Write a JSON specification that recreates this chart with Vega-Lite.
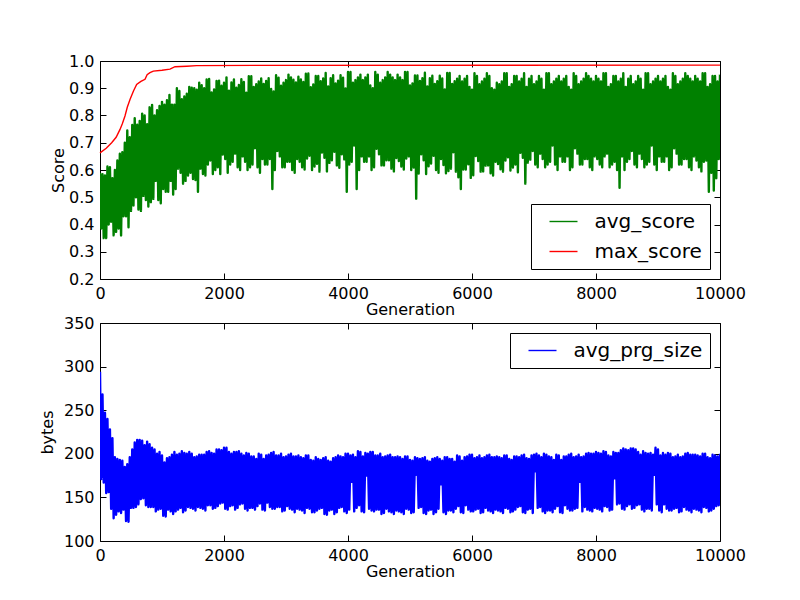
{
  "$schema": "https://vega.github.io/schema/vega-lite/v6.json",
  "background": "white",
  "padding": {"left": 38, "top": 52, "right": 5, "bottom": 5},
  "datasets": {
    "runs": [
      {"x":0,"a":0.59,"p":294},{"x":20,"a":0.385,"p":171},{"x":40,"a":0.585,"p":268},{"x":60,"a":0.35,"p":167},
      {"x":80,"a":0.58,"p":247},{"x":100,"a":0.35,"p":155},{"x":120,"a":0.613,"p":240},{"x":140,"a":0.40,"p":156},
      {"x":160,"a":0.61,"p":228},{"x":180,"a":0.41,"p":137},{"x":200,"a":0.57,"p":218},{"x":220,"a":0.36,"p":126},
      {"x":240,"a":0.60,"p":196},{"x":260,"a":0.373,"p":130},{"x":280,"a":0.635,"p":194},{"x":300,"a":0.385,"p":134},
      {"x":320,"a":0.66,"p":193},{"x":340,"a":0.36,"p":132},{"x":360,"a":0.665,"p":192},{"x":380,"a":0.43,"p":136},
      {"x":400,"a":0.70,"p":185},{"x":420,"a":0.43,"p":123},{"x":440,"a":0.745,"p":188},{"x":460,"a":0.39,"p":122},
      {"x":480,"a":0.72,"p":196},{"x":500,"a":0.45,"p":138},{"x":520,"a":0.765,"p":205},{"x":540,"a":0.47,"p":138},
      {"x":560,"a":0.79,"p":213},{"x":580,"a":0.50,"p":139},{"x":600,"a":0.766,"p":216},{"x":620,"a":0.455,"p":142},
      {"x":640,"a":0.78,"p":216},{"x":660,"a":0.45,"p":148},{"x":680,"a":0.807,"p":215},{"x":700,"a":0.505,"p":149},
      {"x":720,"a":0.80,"p":210},{"x":740,"a":0.49,"p":141},{"x":760,"a":0.768,"p":214},{"x":780,"a":0.466,"p":139},
      {"x":800,"a":0.83,"p":211},{"x":820,"a":0.482,"p":139},{"x":840,"a":0.839,"p":207},{"x":860,"a":0.494,"p":139},
      {"x":880,"a":0.80,"p":205},{"x":900,"a":0.56,"p":134},{"x":920,"a":0.819,"p":200},{"x":940,"a":0.49,"p":136},
      {"x":960,"a":0.835,"p":202},{"x":980,"a":0.478,"p":137},{"x":1000,"a":0.85,"p":198},{"x":1020,"a":0.53,"p":129},
      {"x":1040,"a":0.84,"p":190},{"x":1060,"a":0.52,"p":128},{"x":1080,"a":0.856,"p":195},{"x":1100,"a":0.52,"p":136},
      {"x":1120,"a":0.875,"p":196},{"x":1140,"a":0.56,"p":134},{"x":1160,"a":0.84,"p":199},{"x":1180,"a":0.51,"p":131},
      {"x":1200,"a":0.84,"p":202},{"x":1220,"a":0.53,"p":134},{"x":1240,"a":0.90,"p":199},{"x":1260,"a":0.605,"p":136},
      {"x":1280,"a":0.89,"p":200},{"x":1300,"a":0.59,"p":138},{"x":1320,"a":0.86,"p":203},{"x":1340,"a":0.55,"p":133},
      {"x":1360,"a":0.87,"p":201},{"x":1380,"a":0.56,"p":135},{"x":1400,"a":0.88,"p":200},{"x":1420,"a":0.58,"p":139},
      {"x":1440,"a":0.905,"p":202},{"x":1460,"a":0.59,"p":138},{"x":1480,"a":0.902,"p":200},{"x":1500,"a":0.567,"p":137},
      {"x":1520,"a":0.90,"p":196},{"x":1540,"a":0.563,"p":135},{"x":1560,"a":0.895,"p":197},{"x":1580,"a":0.52,"p":139},
      {"x":1600,"a":0.92,"p":199},{"x":1620,"a":0.605,"p":138},{"x":1640,"a":0.911,"p":199},{"x":1660,"a":0.585,"p":137},
      {"x":1680,"a":0.90,"p":199},{"x":1700,"a":0.58,"p":135},{"x":1720,"a":0.932,"p":202},{"x":1740,"a":0.62,"p":141},
      {"x":1760,"a":0.934,"p":203},{"x":1780,"a":0.635,"p":141},{"x":1800,"a":0.885,"p":201},{"x":1820,"a":0.585,"p":137},
      {"x":1840,"a":0.896,"p":200},{"x":1860,"a":0.60,"p":138},{"x":1880,"a":0.927,"p":205},{"x":1900,"a":0.61,"p":140},
      {"x":1920,"a":0.928,"p":205},{"x":1940,"a":0.585,"p":143},{"x":1960,"a":0.909,"p":204},{"x":1980,"a":0.657,"p":144},
      {"x":2000,"a":0.92,"p":207},{"x":2020,"a":0.64,"p":137},{"x":2040,"a":0.94,"p":207},{"x":2060,"a":0.59,"p":136},
      {"x":2080,"a":0.891,"p":202},{"x":2100,"a":0.62,"p":140},{"x":2120,"a":0.921,"p":200},{"x":2140,"a":0.63,"p":141},
      {"x":2160,"a":0.932,"p":202},{"x":2180,"a":0.66,"p":136},{"x":2200,"a":0.902,"p":202},{"x":2220,"a":0.61,"p":138},
      {"x":2240,"a":0.912,"p":203},{"x":2260,"a":0.60,"p":142},{"x":2280,"a":0.933,"p":200},{"x":2300,"a":0.65,"p":143},
      {"x":2320,"a":0.923,"p":198},{"x":2340,"a":0.63,"p":137},{"x":2360,"a":0.884,"p":201},{"x":2380,"a":0.60,"p":135},
      {"x":2400,"a":0.944,"p":200},{"x":2420,"a":0.61,"p":138},{"x":2440,"a":0.944,"p":197},{"x":2460,"a":0.62,"p":138},
      {"x":2480,"a":0.905,"p":197},{"x":2500,"a":0.68,"p":136},{"x":2520,"a":0.915,"p":194},{"x":2540,"a":0.61,"p":140},
      {"x":2560,"a":0.925,"p":200},{"x":2580,"a":0.59,"p":143},{"x":2600,"a":0.936,"p":199},{"x":2620,"a":0.64,"p":136},
      {"x":2640,"a":0.916,"p":194},{"x":2660,"a":0.62,"p":135},{"x":2680,"a":0.927,"p":198},{"x":2700,"a":0.62,"p":144},
      {"x":2720,"a":0.937,"p":199},{"x":2740,"a":0.64,"p":139},{"x":2760,"a":0.897,"p":201},{"x":2780,"a":0.53,"p":137},
      {"x":2800,"a":0.888,"p":202},{"x":2820,"a":0.60,"p":137},{"x":2840,"a":0.948,"p":198},{"x":2860,"a":0.67,"p":139},
      {"x":2880,"a":0.939,"p":198},{"x":2900,"a":0.65,"p":139},{"x":2920,"a":0.909,"p":200},{"x":2940,"a":0.61,"p":134},
      {"x":2960,"a":0.92,"p":196},{"x":2980,"a":0.61,"p":135},{"x":3000,"a":0.93,"p":197},{"x":3020,"a":0.63,"p":140},
      {"x":3040,"a":0.95,"p":199},{"x":3060,"a":0.63,"p":137},{"x":3080,"a":0.94,"p":200},{"x":3100,"a":0.60,"p":136},
      {"x":3120,"a":0.931,"p":197},{"x":3140,"a":0.59,"p":133},{"x":3160,"a":0.921,"p":197},{"x":3180,"a":0.64,"p":137},
      {"x":3200,"a":0.942,"p":198},{"x":3220,"a":0.63,"p":136},{"x":3240,"a":0.932,"p":196},{"x":3260,"a":0.61,"p":135},
      {"x":3280,"a":0.923,"p":195},{"x":3300,"a":0.602,"p":132},{"x":3320,"a":0.953,"p":198},{"x":3340,"a":0.642,"p":138},
      {"x":3360,"a":0.954,"p":198},{"x":3380,"a":0.652,"p":137},{"x":3400,"a":0.904,"p":193},{"x":3420,"a":0.60,"p":133},
      {"x":3440,"a":0.914,"p":192},{"x":3460,"a":0.613,"p":133},{"x":3480,"a":0.945,"p":196},{"x":3500,"a":0.623,"p":135},
      {"x":3520,"a":0.945,"p":194},{"x":3540,"a":0.594,"p":137},{"x":3560,"a":0.926,"p":193},{"x":3580,"a":0.664,"p":138},
      {"x":3600,"a":0.936,"p":195},{"x":3620,"a":0.645,"p":131},{"x":3640,"a":0.956,"p":196},{"x":3660,"a":0.595,"p":130},
      {"x":3680,"a":0.907,"p":192},{"x":3700,"a":0.626,"p":135},{"x":3720,"a":0.937,"p":191},{"x":3740,"a":0.636,"p":136},
      {"x":3760,"a":0.948,"p":195},{"x":3780,"a":0.667,"p":131},{"x":3800,"a":0.918,"p":196},{"x":3820,"a":0.617,"p":133},
      {"x":3840,"a":0.928,"p":198},{"x":3860,"a":0.608,"p":138},{"x":3880,"a":0.948,"p":197},{"x":3900,"a":0.658,"p":139},
      {"x":3920,"a":0.939,"p":196},{"x":3940,"a":0.639,"p":134},{"x":3960,"a":0.899,"p":200},{"x":3980,"a":0.52,"p":132},
      {"x":4000,"a":0.96,"p":200},{"x":4020,"a":0.62,"p":136},{"x":4040,"a":0.96,"p":198},{"x":4060,"a":0.63,"p":168},
      {"x":4080,"a":0.92,"p":199},{"x":4100,"a":0.69,"p":134},{"x":4120,"a":0.93,"p":196},{"x":4140,"a":0.53,"p":138},
      {"x":4160,"a":0.94,"p":203},{"x":4180,"a":0.60,"p":141},{"x":4200,"a":0.95,"p":202},{"x":4220,"a":0.65,"p":134},
      {"x":4240,"a":0.93,"p":197},{"x":4260,"a":0.63,"p":133},{"x":4280,"a":0.94,"p":201},{"x":4300,"a":0.63,"p":175},
      {"x":4320,"a":0.95,"p":200},{"x":4340,"a":0.65,"p":137},{"x":4360,"a":0.91,"p":202},{"x":4380,"a":0.60,"p":135},
      {"x":4400,"a":0.90,"p":202},{"x":4420,"a":0.61,"p":134},{"x":4440,"a":0.96,"p":198},{"x":4460,"a":0.678,"p":136},
      {"x":4480,"a":0.95,"p":198},{"x":4500,"a":0.658,"p":136},{"x":4520,"a":0.92,"p":200},{"x":4540,"a":0.617,"p":131},
      {"x":4560,"a":0.93,"p":196},{"x":4580,"a":0.617,"p":132},{"x":4600,"a":0.94,"p":197},{"x":4620,"a":0.636,"p":137},
      {"x":4640,"a":0.96,"p":198},{"x":4660,"a":0.636,"p":134},{"x":4680,"a":0.95,"p":199},{"x":4700,"a":0.605,"p":133},
      {"x":4720,"a":0.94,"p":196},{"x":4740,"a":0.595,"p":131},{"x":4760,"a":0.93,"p":196},{"x":4780,"a":0.644,"p":135},
      {"x":4800,"a":0.95,"p":197},{"x":4820,"a":0.633,"p":134},{"x":4840,"a":0.94,"p":196},{"x":4860,"a":0.613,"p":133},
      {"x":4880,"a":0.93,"p":194},{"x":4900,"a":0.602,"p":131},{"x":4920,"a":0.96,"p":197},{"x":4940,"a":0.642,"p":137},
      {"x":4960,"a":0.96,"p":197},{"x":4980,"a":0.65,"p":136},{"x":5000,"a":0.91,"p":193},{"x":5020,"a":0.60,"p":132},
      {"x":5040,"a":0.918,"p":192},{"x":5060,"a":0.609,"p":133},{"x":5080,"a":0.947,"p":196},{"x":5100,"a":0.495,"p":176},
      {"x":5120,"a":0.947,"p":195},{"x":5140,"a":0.587,"p":138},{"x":5160,"a":0.927,"p":194},{"x":5180,"a":0.658,"p":139},
      {"x":5200,"a":0.937,"p":195},{"x":5220,"a":0.636,"p":132},{"x":5240,"a":0.957,"p":196},{"x":5260,"a":0.585,"p":131},
      {"x":5280,"a":0.907,"p":192},{"x":5300,"a":0.614,"p":135},{"x":5320,"a":0.937,"p":191},{"x":5340,"a":0.624,"p":136},
      {"x":5360,"a":0.946,"p":194},{"x":5380,"a":0.652,"p":131},{"x":5400,"a":0.916,"p":195},{"x":5420,"a":0.60,"p":133},
      {"x":5440,"a":0.926,"p":196},{"x":5460,"a":0.59,"p":137},{"x":5480,"a":0.946,"p":194},{"x":5500,"a":0.64,"p":165},
      {"x":5520,"a":0.936,"p":192},{"x":5540,"a":0.618,"p":133},{"x":5560,"a":0.896,"p":196},{"x":5580,"a":0.588,"p":131},
      {"x":5600,"a":0.956,"p":196},{"x":5620,"a":0.596,"p":135},{"x":5640,"a":0.956,"p":194},{"x":5660,"a":0.605,"p":135},
      {"x":5680,"a":0.916,"p":194},{"x":5700,"a":0.665,"p":133},{"x":5720,"a":0.926,"p":191},{"x":5740,"a":0.594,"p":137},
      {"x":5760,"a":0.935,"p":198},{"x":5780,"a":0.573,"p":140},{"x":5800,"a":0.945,"p":197},{"x":5820,"a":0.53,"p":133},
      {"x":5840,"a":0.925,"p":192},{"x":5860,"a":0.602,"p":132},{"x":5880,"a":0.935,"p":196},{"x":5900,"a":0.602,"p":141},
      {"x":5920,"a":0.945,"p":197},{"x":5940,"a":0.621,"p":136},{"x":5960,"a":0.905,"p":199},{"x":5980,"a":0.571,"p":134},
      {"x":6000,"a":0.895,"p":199},{"x":6020,"a":0.581,"p":134},{"x":6040,"a":0.955,"p":195},{"x":6060,"a":0.651,"p":136},
      {"x":6080,"a":0.945,"p":196},{"x":6100,"a":0.633,"p":137},{"x":6120,"a":0.915,"p":198},{"x":6140,"a":0.594,"p":132},
      {"x":6160,"a":0.925,"p":195},{"x":6180,"a":0.595,"p":133},{"x":6200,"a":0.935,"p":196},{"x":6220,"a":0.616,"p":138},
      {"x":6240,"a":0.955,"p":198},{"x":6260,"a":0.617,"p":135},{"x":6280,"a":0.945,"p":199},{"x":6300,"a":0.588,"p":134},
      {"x":6320,"a":0.90,"p":196},{"x":6340,"a":0.58,"p":132},{"x":6360,"a":0.895,"p":196},{"x":6380,"a":0.63,"p":136},
      {"x":6400,"a":0.92,"p":197},{"x":6420,"a":0.622,"p":135},{"x":6440,"a":0.915,"p":196},{"x":6460,"a":0.603,"p":134},
      {"x":6480,"a":0.925,"p":195},{"x":6500,"a":0.594,"p":132},{"x":6520,"a":0.955,"p":198},{"x":6540,"a":0.635,"p":138},
      {"x":6560,"a":0.955,"p":198},{"x":6580,"a":0.647,"p":137},{"x":6600,"a":0.905,"p":194},{"x":6620,"a":0.598,"p":133},
      {"x":6640,"a":0.915,"p":193},{"x":6660,"a":0.609,"p":134},{"x":6680,"a":0.945,"p":197},{"x":6700,"a":0.62,"p":136},
      {"x":6720,"a":0.945,"p":197},{"x":6740,"a":0.592,"p":139},{"x":6760,"a":0.925,"p":196},{"x":6780,"a":0.663,"p":140},
      {"x":6800,"a":0.935,"p":198},{"x":6820,"a":0.645,"p":133},{"x":6840,"a":0.955,"p":199},{"x":6860,"a":0.55,"p":132},
      {"x":6880,"a":0.905,"p":195},{"x":6900,"a":0.627,"p":136},{"x":6920,"a":0.935,"p":194},{"x":6940,"a":0.638,"p":137},
      {"x":6960,"a":0.945,"p":198},{"x":6980,"a":0.67,"p":132},{"x":7000,"a":0.915,"p":199},{"x":7020,"a":0.62,"p":180},
      {"x":7040,"a":0.925,"p":200},{"x":7060,"a":0.61,"p":138},{"x":7080,"a":0.945,"p":198},{"x":7100,"a":0.66,"p":139},
      {"x":7120,"a":0.935,"p":196},{"x":7140,"a":0.64,"p":134},{"x":7160,"a":0.895,"p":200},{"x":7180,"a":0.61,"p":132},
      {"x":7200,"a":0.955,"p":199},{"x":7220,"a":0.62,"p":135},{"x":7240,"a":0.955,"p":197},{"x":7260,"a":0.63,"p":135},
      {"x":7280,"a":0.915,"p":196},{"x":7300,"a":0.69,"p":133},{"x":7320,"a":0.925,"p":193},{"x":7340,"a":0.62,"p":137},
      {"x":7360,"a":0.935,"p":199},{"x":7380,"a":0.60,"p":140},{"x":7400,"a":0.945,"p":198},{"x":7420,"a":0.65,"p":133},
      {"x":7440,"a":0.925,"p":193},{"x":7460,"a":0.63,"p":132},{"x":7480,"a":0.935,"p":197},{"x":7500,"a":0.63,"p":141},
      {"x":7520,"a":0.945,"p":197},{"x":7540,"a":0.65,"p":137},{"x":7560,"a":0.905,"p":199},{"x":7580,"a":0.60,"p":135},
      {"x":7600,"a":0.895,"p":200},{"x":7620,"a":0.61,"p":135},{"x":7640,"a":0.955,"p":196},{"x":7660,"a":0.68,"p":137},
      {"x":7680,"a":0.945,"p":197},{"x":7700,"a":0.66,"p":138},{"x":7720,"a":0.915,"p":199},{"x":7740,"a":0.62,"p":168},
      {"x":7760,"a":0.925,"p":196},{"x":7780,"a":0.62,"p":134},{"x":7800,"a":0.935,"p":197},{"x":7820,"a":0.64,"p":139},
      {"x":7840,"a":0.955,"p":200},{"x":7860,"a":0.64,"p":136},{"x":7880,"a":0.945,"p":201},{"x":7900,"a":0.61,"p":135},
      {"x":7920,"a":0.935,"p":200},{"x":7940,"a":0.60,"p":134},{"x":7960,"a":0.925,"p":200},{"x":7980,"a":0.65,"p":138},
      {"x":8000,"a":0.945,"p":202},{"x":8020,"a":0.64,"p":137},{"x":8040,"a":0.935,"p":201},{"x":8060,"a":0.62,"p":136},
      {"x":8080,"a":0.925,"p":200},{"x":8100,"a":0.61,"p":134},{"x":8120,"a":0.955,"p":203},{"x":8140,"a":0.65,"p":140},
      {"x":8160,"a":0.955,"p":202},{"x":8180,"a":0.66,"p":139},{"x":8200,"a":0.905,"p":198},{"x":8220,"a":0.61,"p":135},
      {"x":8240,"a":0.915,"p":197},{"x":8260,"a":0.62,"p":136},{"x":8280,"a":0.945,"p":202},{"x":8300,"a":0.63,"p":172},
      {"x":8320,"a":0.945,"p":201},{"x":8340,"a":0.60,"p":142},{"x":8360,"a":0.925,"p":201},{"x":8380,"a":0.535,"p":143},
      {"x":8400,"a":0.935,"p":204},{"x":8420,"a":0.65,"p":137},{"x":8440,"a":0.955,"p":206},{"x":8460,"a":0.60,"p":136},
      {"x":8480,"a":0.905,"p":205},{"x":8500,"a":0.63,"p":140},{"x":8520,"a":0.935,"p":204},{"x":8540,"a":0.64,"p":142},
      {"x":8560,"a":0.945,"p":206},{"x":8580,"a":0.67,"p":137},{"x":8600,"a":0.915,"p":206},{"x":8620,"a":0.62,"p":138},
      {"x":8640,"a":0.925,"p":205},{"x":8660,"a":0.61,"p":141},{"x":8680,"a":0.945,"p":202},{"x":8700,"a":0.66,"p":142},
      {"x":8720,"a":0.935,"p":199},{"x":8740,"a":0.64,"p":136},{"x":8760,"a":0.895,"p":203},{"x":8780,"a":0.61,"p":134},
      {"x":8800,"a":0.955,"p":201},{"x":8820,"a":0.62,"p":137},{"x":8840,"a":0.955,"p":200},{"x":8860,"a":0.63,"p":137},
      {"x":8880,"a":0.915,"p":201},{"x":8900,"a":0.69,"p":135},{"x":8920,"a":0.925,"p":199},{"x":8940,"a":0.62,"p":176},
      {"x":8960,"a":0.935,"p":207},{"x":8980,"a":0.60,"p":142},{"x":9000,"a":0.945,"p":205},{"x":9020,"a":0.65,"p":135},
      {"x":9040,"a":0.925,"p":198},{"x":9060,"a":0.63,"p":133},{"x":9080,"a":0.935,"p":201},{"x":9100,"a":0.63,"p":142},
      {"x":9120,"a":0.945,"p":199},{"x":9140,"a":0.65,"p":137},{"x":9160,"a":0.905,"p":201},{"x":9180,"a":0.60,"p":135},
      {"x":9200,"a":0.895,"p":200},{"x":9220,"a":0.61,"p":135},{"x":9240,"a":0.955,"p":196},{"x":9260,"a":0.68,"p":137},
      {"x":9280,"a":0.945,"p":197},{"x":9300,"a":0.66,"p":138},{"x":9320,"a":0.915,"p":199},{"x":9340,"a":0.62,"p":133},
      {"x":9360,"a":0.925,"p":196},{"x":9380,"a":0.62,"p":134},{"x":9400,"a":0.935,"p":197},{"x":9420,"a":0.64,"p":139},
      {"x":9440,"a":0.955,"p":200},{"x":9460,"a":0.64,"p":136},{"x":9480,"a":0.945,"p":201},{"x":9500,"a":0.61,"p":135},
      {"x":9520,"a":0.935,"p":199},{"x":9540,"a":0.60,"p":133},{"x":9560,"a":0.925,"p":199},{"x":9580,"a":0.65,"p":137},
      {"x":9600,"a":0.945,"p":199},{"x":9620,"a":0.635,"p":136},{"x":9640,"a":0.935,"p":198},{"x":9660,"a":0.61,"p":135},
      {"x":9680,"a":0.925,"p":197},{"x":9700,"a":0.595,"p":133},{"x":9720,"a":0.955,"p":200},{"x":9740,"a":0.63,"p":139},
      {"x":9760,"a":0.955,"p":200},{"x":9780,"a":0.635,"p":138},{"x":9800,"a":0.905,"p":196},{"x":9820,"a":0.52,"p":134},
      {"x":9840,"a":0.915,"p":195},{"x":9860,"a":0.59,"p":135},{"x":9880,"a":0.945,"p":199},{"x":9900,"a":0.525,"p":137},
      {"x":9920,"a":0.945,"p":198},{"x":9940,"a":0.57,"p":140},{"x":9960,"a":0.925,"p":197},{"x":9980,"a":0.64,"p":141},
      {"x":10000,"a":0.95,"p":200}
    ],
    "best": [
      {"x":0,"m":0.663},{"x":100,"m":0.68},{"x":188,"m":0.70},{"x":260,"m":0.72},{"x":323,"m":0.749},
      {"x":360,"m":0.77},{"x":403,"m":0.798},{"x":440,"m":0.83},{"x":484,"m":0.859},{"x":540,"m":0.89},
      {"x":591,"m":0.914},{"x":660,"m":0.925},{"x":726,"m":0.933},{"x":760,"m":0.95},{"x":806,"m":0.957},
      {"x":860,"m":0.963},{"x":1000,"m":0.966},{"x":1129,"m":0.97},{"x":1210,"m":0.979},{"x":1400,"m":0.981},
      {"x":1559,"m":0.983},{"x":2500,"m":0.984},{"x":10000,"m":0.985}
    ]
  },
  "vconcat": [
    {
      "width": 620,
      "height": 218,
      "layer": [
        {
          "data": {"name": "runs"},
          "mark": {"type": "line", "strokeWidth": 2.4, "strokeJoin": "round", "clip": true},
          "encoding": {
            "x": {"field": "x", "type": "quantitative",
                  "scale": {"domain": [0, 10000], "nice": false},
                  "axis": {"orient": "bottom", "values": [0, 2000, 4000, 6000, 8000, 10000], "format": "d",
                           "title": "Generation", "titleY": 35, "titleBaseline": "alphabetic"}},
            "y": {"field": "a", "type": "quantitative",
                  "scale": {"domain": [0.2, 1.0], "nice": false, "zero": false},
                  "axis": {"values": [0.2, 0.3, 0.4, 0.5, 0.6, 0.7, 0.8, 0.9, 1.0], "format": ".1f",
                           "title": "Score", "titleX": -37, "titleBaseline": "alphabetic"}},
            "color": {"datum": "avg_score",
                      "scale": {"domain": ["avg_score", "max_score"], "range": ["#008000", "#ff0000"]},
                      "legend": {"title": null, "orient": "bottom-right", "offset": 10, "symbolStrokeWidth": 1.4}}
          }
        },
        {
          "data": {"name": "best"},
          "mark": {"type": "line", "strokeWidth": 1.4},
          "encoding": {
            "x": {"field": "x", "type": "quantitative",
                  "axis": {"orient": "top", "values": [0, 2000, 4000, 6000, 8000, 10000], "labels": false, "title": null}},
            "y": {"field": "m", "type": "quantitative",
                  "axis": {"orient": "right", "values": [0.2, 0.3, 0.4, 0.5, 0.6, 0.7, 0.8, 0.9, 1.0], "labels": false, "title": null}},
            "color": {"datum": "max_score"}
          }
        }
      ],
      "resolve": {"axis": {"x": "independent", "y": "independent"}}
    },
    {
      "width": 620,
      "height": 218,
      "layer": [
        {
          "data": {"name": "runs"},
          "mark": {"type": "line", "strokeWidth": 2.4, "strokeJoin": "round", "clip": true},
          "encoding": {
            "x": {"field": "x", "type": "quantitative",
                  "scale": {"domain": [0, 10000], "nice": false},
                  "axis": {"orient": "bottom", "values": [0, 2000, 4000, 6000, 8000, 10000], "format": "d",
                           "title": "Generation", "titleY": 35, "titleBaseline": "alphabetic"}},
            "y": {"field": "p", "type": "quantitative",
                  "scale": {"domain": [100, 350], "nice": false, "zero": false},
                  "axis": {"values": [100, 150, 200, 250, 300, 350],
                           "title": "bytes", "titleX": -48, "titleBaseline": "alphabetic"}},
            "color": {"datum": "avg_prg_size",
                      "scale": {"domain": ["avg_prg_size"], "range": ["#0000ff"]},
                      "legend": {"title": null, "orient": "top-right", "offset": 10, "symbolStrokeWidth": 1.4}}
          }
        },
        {
          "data": {"name": "runs"},
          "mark": {"type": "line", "opacity": 0},
          "encoding": {
            "x": {"field": "x", "type": "quantitative",
                  "axis": {"orient": "top", "values": [0, 2000, 4000, 6000, 8000, 10000], "labels": false, "title": null}},
            "y": {"field": "p", "type": "quantitative",
                  "axis": {"orient": "right", "values": [100, 150, 200, 250, 300, 350], "labels": false, "title": null}}
          }
        }
      ],
      "resolve": {"axis": {"x": "independent", "y": "independent"}}
    }
  ],
  "spacing": 44,
  "bounds": "flush",
  "resolve": {"scale": {"color": "independent"}},
  "config": {
    "font": "DejaVu Sans",
    "view": {"stroke": "black", "strokeWidth": 1},
    "axis": {
      "labelFont": "DejaVu Sans", "labelFontSize": 16, "labelColor": "black",
      "titleFont": "DejaVu Sans", "titleFontSize": 16, "titleFontWeight": "normal", "titleColor": "black",
      "tickColor": "black", "tickSize": -6, "tickWidth": 1, "labelPadding": 12,
      "grid": false, "domain": false, "labelFlush": false, "labelOverlap": false, "labelBound": false
    },
    "legend": {
      "labelFont": "DejaVu Sans", "labelFontSize": 20, "labelColor": "black", "labelLimit": 300,
      "fillColor": "white", "strokeColor": "black", "strokeWidth": 1, "cornerRadius": 0,
      "padding": 7.5, "symbolType": "M-2,0H2", "symbolSize": 196, "symbolStrokeWidth": 1.4,
      "symbolOffset": 15, "labelOffset": 21, "rowPadding": 10
    }
  }
}
